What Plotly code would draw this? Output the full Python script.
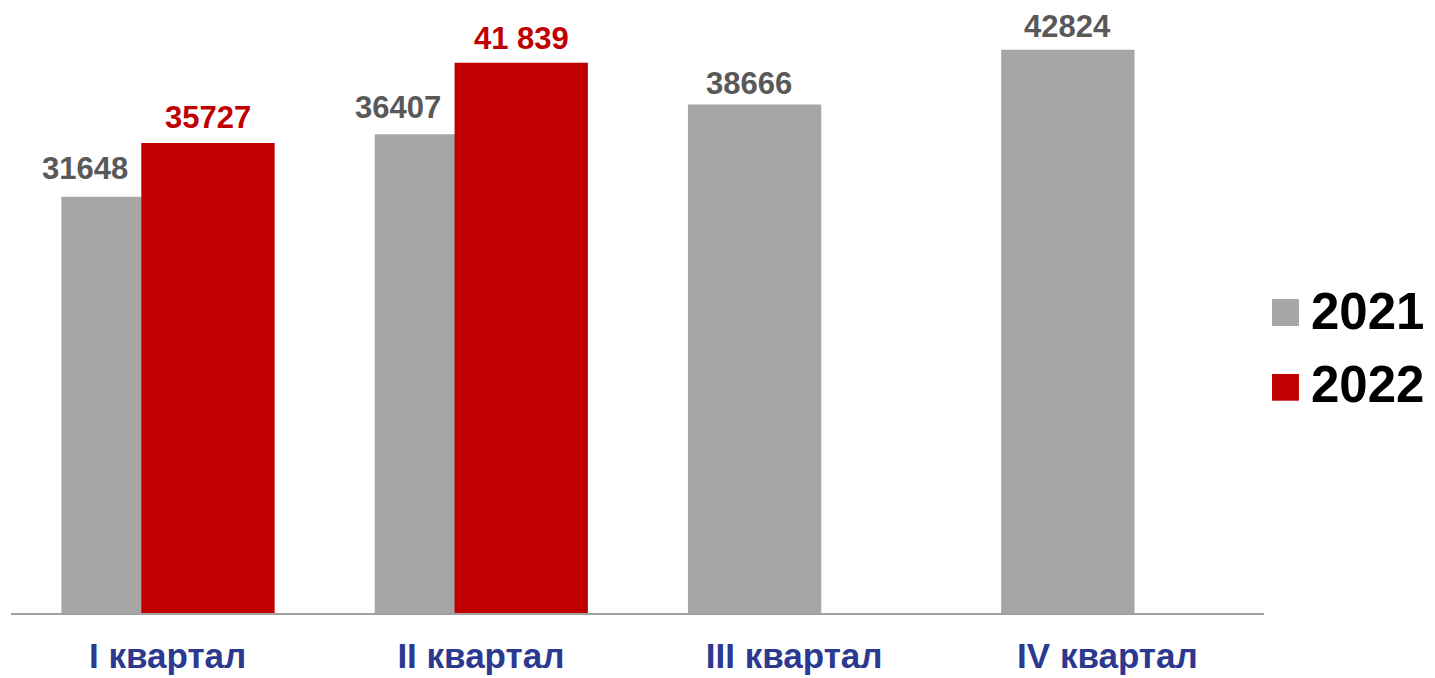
import plotly.graph_objects as go

categories = ["I квартал", "II квартал", "III квартал", "IV квартал"]
series_names = ["2021", "2022"]
values_2021 = [31648, 36407, 38666, 42824]
values_2022 = [35727, 41839, None, None]
labels_2021 = ["31648", "36407", "38666", "42824"]
labels_2022 = ["35727", "41 839", "", ""]

GRAY = "#A6A6A6"
RED = "#C00000"
LABEL_GRAY = "#595959"
BLUE = "#2B3990"
FONT = "Arial, Liberation Sans, sans-serif"

x_idx = list(range(len(categories)))
bar_w = 0.4256
off_2021 = -0.339
off_2022 = -0.084

fig = go.Figure()
fig.add_trace(go.Bar(x=x_idx, y=values_2021, name=series_names[0], marker_color=GRAY,
                     width=bar_w, offset=off_2021, marker_line_width=0, showlegend=False))
fig.add_trace(go.Bar(x=x_idx, y=values_2022, name=series_names[1], marker_color=RED,
                     width=bar_w, offset=off_2022, marker_line_width=0, showlegend=False))

annotations = []
xshift_2021 = [-43, -43, -6, 0]
yshift_2021 = [9, 7, 1, 4]
yshift_2022 = [6, 5, 0, 0]
for i, (v, t) in enumerate(zip(values_2021, labels_2021)):
    annotations.append(dict(x=i + off_2021 + bar_w / 2, y=v, xref="x", yref="y", text=f"<b>{t}</b>",
                            showarrow=False, xanchor="center", yanchor="bottom", yshift=yshift_2021[i],
                            xshift=xshift_2021[i], font=dict(family=FONT, size=31, color=LABEL_GRAY)))
for i, (v, t) in enumerate(zip(values_2022, labels_2022)):
    if v is None:
        continue
    annotations.append(dict(x=i + off_2022 + bar_w / 2, y=v, xref="x", yref="y", text=f"<b>{t}</b>",
                            showarrow=False, xanchor="center", yanchor="bottom", yshift=yshift_2022[i],
                            font=dict(family=FONT, size=31, color=RED)))

# legend drawn manually
leg_colors = [GRAY, RED]
leg_sq = [(0.4744, 0.5190), (0.3509, 0.3950)]
leg_txt_y = [0.499, 0.3772]
shapes = []
for name, col, (y0, y1), ty in zip(series_names, leg_colors, leg_sq, leg_txt_y):
    shapes.append(dict(type="rect", xref="paper", yref="paper", x0=1.0064, x1=1.0279,
                       y0=y0, y1=y1, fillcolor=col, line_width=0))
    annotations.append(dict(x=1.036, y=ty, xref="paper", yref="paper", text=f"<b>{name}</b>",
                            showarrow=False, xanchor="left", yanchor="middle",
                            font=dict(family=FONT, size=51, color="#000000")))

fig.update_layout(
    width=1435, height=678,
    margin=dict(l=11, r=171, t=8, b=65),
    paper_bgcolor="white", plot_bgcolor="white",
    barmode="overlay",
    showlegend=False,
    annotations=annotations,
    shapes=shapes,
    xaxis=dict(range=[-0.5, 3.5], tickmode="array", tickvals=x_idx,
               ticktext=[f"<b>{c}</b>" for c in categories],
               tickfont=dict(family=FONT, size=35, color=BLUE),
               showline=True, linecolor="#A0A0A0", linewidth=2, ticks="",
               showgrid=False, zeroline=False, automargin=False, ticklabelstandoff=11),
    yaxis=dict(range=[0, 46000], visible=False, showgrid=False, zeroline=False),
)

fig.write_html("out.html", config={"displayModeBar": False},
               post_script="document.body.style.margin='0';document.body.style.overflow='hidden';")
